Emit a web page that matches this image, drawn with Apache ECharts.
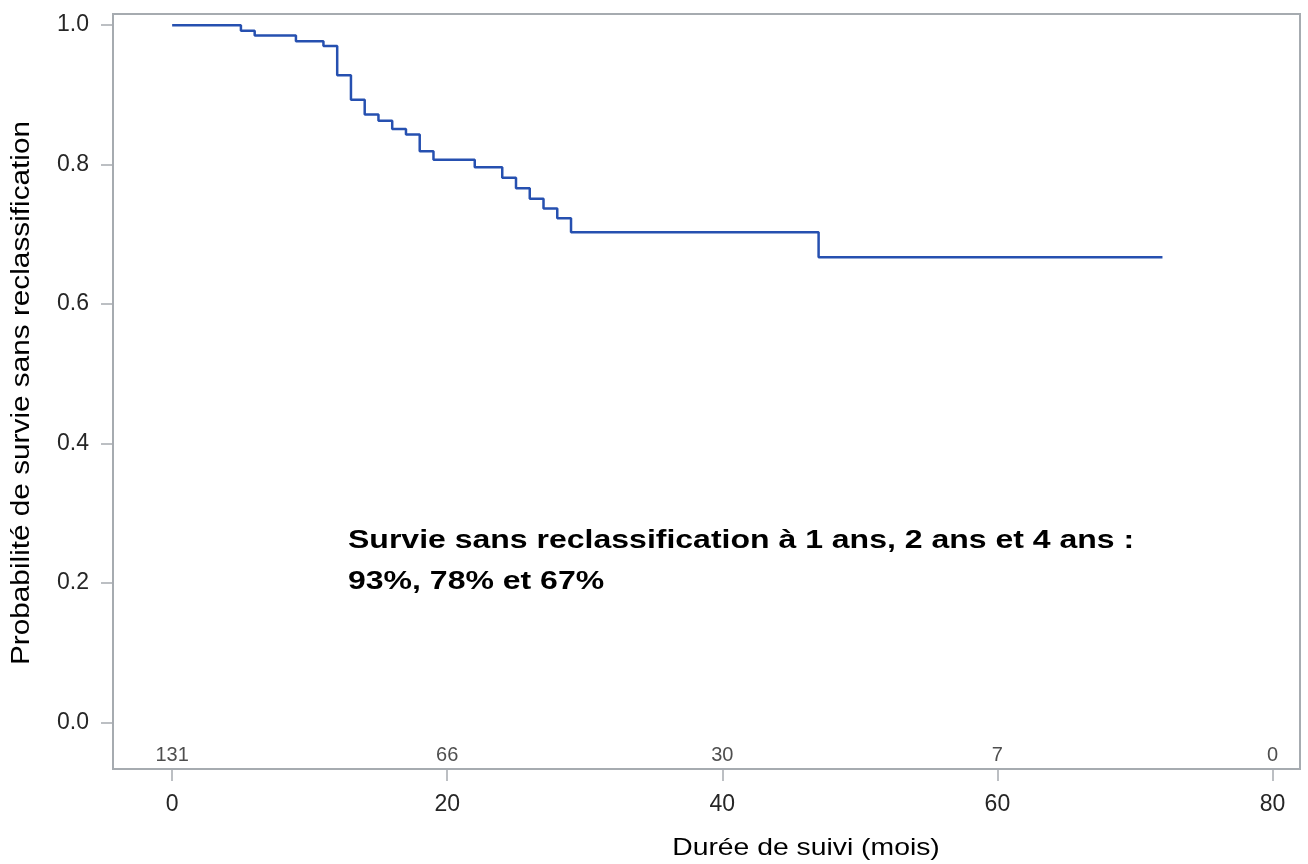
<!DOCTYPE html>
<html>
<head>
<meta charset="utf-8">
<script src="https://cdn.jsdelivr.net/npm/echarts@6/dist/echarts.min.js"></script>
<style>html,body{margin:0;padding:0;background:#fff}#c{width:1308px;height:864px}</style>
</head>
<body>
<div id="c"></div>
<script>
// Kaplan-Meier step points (time in months, survival probability)
const times = [0, 5, 6, 9, 11, 12, 13, 14, 15, 16, 17, 18, 19, 22, 24, 25, 26, 27, 28, 29, 47, 72];
const survival = [1.0, 0.992, 0.985, 0.977, 0.970, 0.928, 0.893, 0.872, 0.863, 0.851, 0.843, 0.819, 0.807, 0.796, 0.781, 0.766, 0.751, 0.737, 0.723, 0.703, 0.667, 0.667];
const xTicks = [0, 20, 40, 60, 80];
const yTicks = [0, 0.2, 0.4, 0.6, 0.8, 1.0];
const atRiskTimes = [0, 20, 40, 60, 80];
const atRisk = [131, 66, 30, 7, 0];

const font = '"Liberation Sans", Arial, sans-serif';
const axisColor = '#a6abb0';
const chart = echarts.init(document.getElementById('c'));
chart.setOption({
  animation: false,
  backgroundColor: '#fff',
  grid: {left: 113, top: 14, right: 8, bottom: 95, show: true, borderColor: axisColor, borderWidth: 2, containLabel: false},
  xAxis: {
    type: 'value', min: -4.3, max: 82,
    axisLine: {show: true, onZero: false, lineStyle: {color: axisColor, width: 2}},
    axisTick: {show: true, length: 12, lineStyle: {color: axisColor, width: 1.5}, customValues: xTicks},
    axisLabel: {color: '#262626', fontFamily: font, fontSize: 23, margin: 24, customValues: xTicks},
    splitLine: {show: false}
  },
  yAxis: {
    type: 'value', min: -0.067, max: 1.016,
    axisLine: {show: true, onZero: false, lineStyle: {color: axisColor, width: 2}},
    axisTick: {show: true, length: 12, lineStyle: {color: axisColor, width: 1.5}, customValues: yTicks},
    axisLabel: {color: '#262626', fontFamily: font, fontSize: 23, margin: 24, customValues: yTicks, formatter: v => v.toFixed(1)},
    splitLine: {show: false}
  },
  series: [
    {
      type: 'line', step: 'end', symbol: 'none',
      data: times.map((t, i) => [t, survival[i]]),
      lineStyle: {color: '#2650b0', width: 2.5}
    },
    {
      type: 'scatter', symbolSize: 0,
      data: atRiskTimes.map((t, i) => [t, -0.048, atRisk[i]]),
      label: {show: true, position: 'inside', formatter: p => String(p.data[2]), color: '#222', fontFamily: font, fontSize: 20},
      silent: true
    }
  ],
  graphic: [
    {type: 'text', x: 348, y: 521, scaleX: 1.28, style: {text: 'Survie sans reclassification à 1 ans, 2 ans et 4 ans :\n93%, 78% et 67%', font: 'bold 25px ' + font, fill: '#000', lineHeight: 41}},
    {type: 'text', x: 22, y: 393, rotation: Math.PI / 2, scaleX: 1.19, style: {text: 'Probabilité de survie sans reclassification', font: '25px ' + font, fill: '#000', align: 'center', verticalAlign: 'middle'}},
    {type: 'text', x: 806, y: 848, scaleX: 1.18, style: {text: 'Durée de suivi (mois)', font: '24px ' + font, fill: '#000', align: 'center', verticalAlign: 'middle'}}
  ]
});
</script>
</body>
</html>
